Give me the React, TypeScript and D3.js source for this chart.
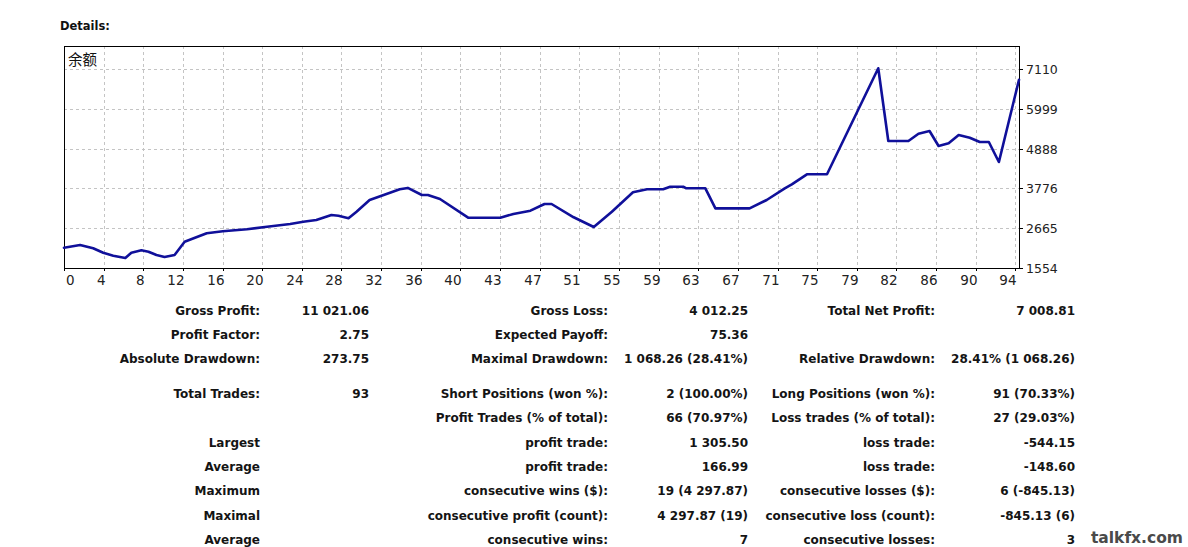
import React from "react";
import * as d3 from "d3";

// ---- data ----
const balanceIdx = [0, 1.6, 2.9, 3.9, 4.9, 6.1, 6.7, 7.7, 8.4, 9.2, 10.0, 11.0, 12.0, 12.9, 14.2, 15.8, 18.2, 20.2, 22.5, 23.8, 25.1, 26.6, 27.3, 28.3, 29.1, 30.4, 31.8, 33.4, 34.2, 35.6, 36.2, 37.4, 40.2, 43.4, 44.7, 46.4, 47.8, 48.5, 50.7, 52.7, 54.5, 56.6, 58.0, 59.6, 60.3, 61.6, 61.9, 63.8, 64.8, 68.2, 69.9, 71.7, 72.4, 73.9, 75.9, 81.0, 82.0, 84.0, 85.0, 86.1, 87.0, 88.0, 89.0, 90.1, 91.1, 92.0, 93.0, 95.0];
const balanceVal = [2121, 2196, 2104, 1981, 1897, 1833, 1981, 2048, 2009, 1917, 1861, 1917, 2288, 2383, 2523, 2579, 2635, 2707, 2783, 2847, 2894, 3034, 3014, 2942, 3126, 3453, 3592, 3751, 3790, 3592, 3592, 3480, 2959, 2959, 3062, 3154, 3341, 3341, 2970, 2700, 3126, 3667, 3751, 3751, 3824, 3824, 3779, 3779, 3219, 3219, 3453, 3779, 3891, 4170, 4170, 7130, 5100, 5100, 5304, 5379, 4960, 5035, 5267, 5192, 5072, 5072, 4513, 6810];

const yTicks = [1554, 2665, 3776, 4888, 5999, 7110];
const xTickLabels = ["0", "4", "8", "12", "16", "20", "24", "28", "32", "36", "40", "43", "47", "51", "55", "59", "63", "67", "71", "75", "79", "82", "86", "90", "94"];

const seriesName = "余额";
const titleText = "Details:";
const watermark = "talkfx.com";

const labels1 = ["Gross Profit:", "Profit Factor:", "Absolute Drawdown:", "Total Trades:", "", "Largest", "Average", "Maximum", "Maximal", "Average"];
const values1 = ["11 021.06", "2.75", "273.75", "93", "", "", "", "", "", ""];
const labels2 = ["Gross Loss:", "Expected Payoff:", "Maximal Drawdown:", "Short Positions (won %):", "Profit Trades (% of total):", "profit trade:", "profit trade:", "consecutive wins ($):", "consecutive profit (count):", "consecutive wins:"];
const values2 = ["4 012.25", "75.36", "1 068.26 (28.41%)", "2 (100.00%)", "66 (70.97%)", "1 305.50", "166.99", "19 (4 297.87)", "4 297.87 (19)", "7"];
const labels3 = ["Total Net Profit:", "", "Relative Drawdown:", "Long Positions (won %):", "Loss trades (% of total):", "loss trade:", "loss trade:", "consecutive losses ($):", "consecutive loss (count):", "consecutive losses:"];
const values3 = ["7 008.81", "", "28.41% (1 068.26)", "91 (70.33%)", "27 (29.03%)", "-544.15", "-148.60", "6 (-845.13)", "-845.13 (6)", "3"];

export default function App() {
  const W = 1188, H = 547;
  const left = 64, right = 1019, top = 46, bottom = 268;

  const x = d3.scaleLinear().domain([0, 95]).range([left, right]);
  const y = d3.scaleLinear().domain([1554, 7110]).range([bottom, 69]);
  const xt = d3.scalePoint<string>().domain(xTickLabels).range([left, 1015.4]);

  const pts: [number, number][] = balanceIdx.map((d, i) => [d, balanceVal[i]]);
  const line = d3.line<[number, number]>().x(d => x(d[0])).y(d => y(d[1]));

  const font = "'DejaVu Sans', Verdana, sans-serif";
  const cols = [
    { data: labels1, xr: 260 },
    { data: values1, xr: 369 },
    { data: labels2, xr: 608 },
    { data: values2, xr: 748 },
    { data: labels3, xr: 935 },
    { data: values3, xr: 1075 },
  ];
  const rowY = (i: number) => 314.5 + i * 24.4 + (i >= 3 ? 10 : 0);

  return (
    <svg width={W} height={H} style={{ position: "absolute", left: 0, top: 0, background: "#fff" }}>
      <rect x={0} y={0} width={W} height={H} fill="#fff" />
      <text x={60} y={30} fontFamily={font} fontWeight="bold" fontSize={11.5} fill="#111">{titleText}</text>

      {/* grid */}
      <g stroke="#c4c4c4" strokeWidth={1} strokeDasharray="3,3">
        {xTickLabels.map((l, i) => i === 0 ? null : (
          <line key={"gx" + i} x1={Math.round(xt(l)!) + 0.5} x2={Math.round(xt(l)!) + 0.5} y1={top} y2={bottom} />
        ))}
        {yTicks.map((t, i) => i === 0 ? null : (
          <line key={"gy" + i} x1={left} x2={right} y1={Math.round(y(t)) + 0.5} y2={Math.round(y(t)) + 0.5} />
        ))}
      </g>

      {/* frame */}
      <rect x={left + 0.5} y={top + 0.5} width={right - left} height={bottom - top} fill="none" stroke="#000" strokeWidth={1} />

      {/* x ticks */}
      <g>
        {xTickLabels.map((l, i) => {
          const px = Math.round(xt(l)!) + 0.5;
          return (
            <g key={"xt" + i}>
              <line x1={px} x2={px} y1={bottom} y2={bottom + 3} stroke="#000" />
              <text x={i === 0 ? px + 1.5 : px + 1} y={284.5} textAnchor={i === 0 ? "start" : "end"} fontFamily={font} fontSize={13.5} fill="#222">{l}</text>
            </g>
          );
        })}
      </g>

      {/* y ticks */}
      <g>
        {yTicks.map((t, i) => {
          const py = Math.round(y(t)) + 0.5;
          return (
            <g key={"yt" + i}>
              <line x1={right} x2={right + 4} y1={py} y2={py} stroke="#000" />
              <text x={right + 7} y={py + 4.5} fontFamily={font} fontSize={12.5} fill="#222">{t}</text>
            </g>
          );
        })}
      </g>

      {/* series name */}
      <text x={68} y={65} fontFamily="'Noto Sans CJK SC', sans-serif" fontSize={14.5} fill="#111">{seriesName}</text>

      {/* balance line */}
      <path d={line(pts) || ""} fill="none" stroke="#10109a" strokeWidth={2.6} strokeLinejoin="round" strokeLinecap="round" />

      {/* stats table */}
      <g fontFamily={font} fontWeight="bold" fontSize={12} fill="#141414" textAnchor="end">
        {cols.map((c, ci) => c.data.map((s, i) => s ? (
          <text key={ci + "-" + i} x={c.xr} y={rowY(i)}>{s}</text>
        ) : null))}
      </g>

      <text x={1183} y={543} textAnchor="end" fontFamily={font} fontWeight="bold" fontSize={15.5} fill="#4a4a4a">{watermark}</text>
    </svg>
  );
}
